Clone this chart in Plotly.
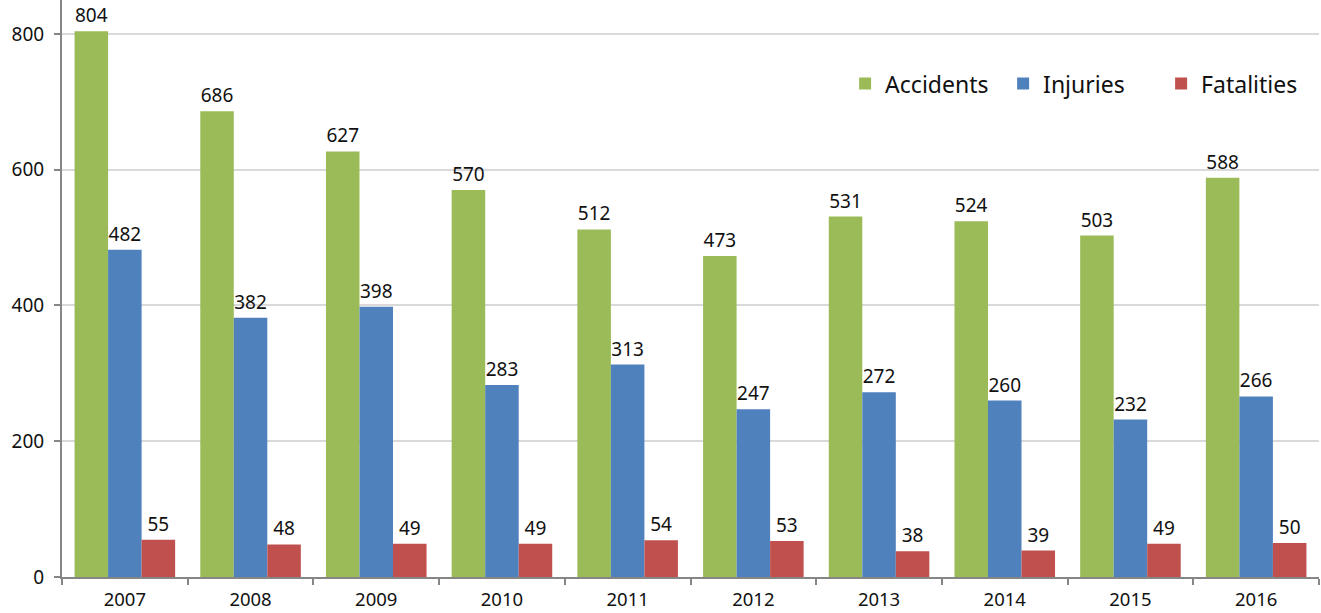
import plotly.graph_objects as go

years = ["2007", "2008", "2009", "2010", "2011", "2012", "2013", "2014", "2015", "2016"]
accidents = [804, 686, 627, 570, 512, 473, 531, 524, 503, 588]
injuries = [482, 382, 398, 283, 313, 247, 272, 260, 232, 266]
fatalities = [55, 48, 49, 49, 54, 53, 38, 39, 49, 50]

series = [
    ("Accidents", accidents, "#9BBB59"),
    ("Injuries", injuries, "#4F81BD"),
    ("Fatalities", fatalities, "#C0504D"),
]

font_family = "Noto Sans, DejaVu Sans, sans-serif"

fig = go.Figure()
for name, vals, color in series:
    fig.add_trace(go.Bar(
        name=name, x=years, y=vals,
        marker=dict(color=color, line=dict(width=0)),
        text=[str(v) for v in vals], textposition="outside",
        textfont=dict(size=19, color="#111111", family=font_family),
        cliponaxis=False,
    ))

fig.update_layout(
    width=1321, height=613,
    margin=dict(l=62, r=2, t=0, b=36, autoexpand=False),
    paper_bgcolor="white", plot_bgcolor="white",
    barmode="group", bargap=0.2, bargroupgap=0,
    font=dict(family=font_family, size=19, color="#111111"),
    showlegend=True,
    legend=dict(
        orientation="h", x=0.623, xanchor="left", y=0.855, yanchor="middle",
        font=dict(size=23, color="#111111"), itemsizing="constant",
        traceorder="normal", itemwidth=30, entrywidth=113, entrywidthmode="pixels",
        bgcolor="rgba(0,0,0,0)",
    ),
)
fig.update_xaxes(
    showline=True, linecolor="#868686", linewidth=2,
    ticks="outside", ticklen=6, tickcolor="#868686", tickwidth=2,
    tickson="boundaries", tickfont=dict(size=18.5), automargin=False,
    ticklabelstandoff=5,
)
fig.update_yaxes(
    range=[0, 850], tickvals=[0, 200, 400, 600, 800],
    showline=True, linecolor="#868686", linewidth=2,
    ticks="outside", ticklen=6, tickcolor="#868686", tickwidth=2,
    showgrid=True, gridcolor="#D9D9D9", gridwidth=2,
    zeroline=False, tickfont=dict(size=19), automargin=False,
    ticklabelstandoff=6,
)

fig.write_html(
    "out.html",
    config={"displayModeBar": False},
    post_script="document.body.style.margin='0';document.body.style.padding='0';",
)
